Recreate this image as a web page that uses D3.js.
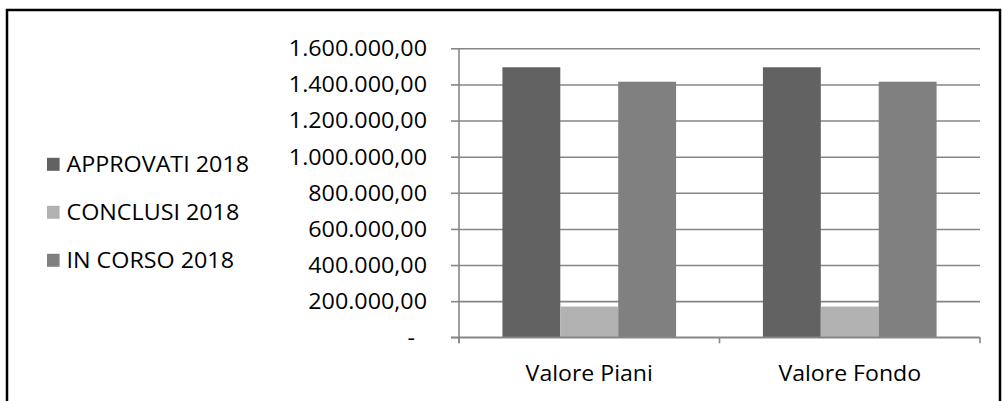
<!DOCTYPE html>
<html><head><meta charset="utf-8">
<script src="https://cdn.jsdelivr.net/npm/d3@7"></script>
<style>
html,body{margin:0;padding:0;background:#fff;}
svg{display:block;}
text{font-family:"Open Sans", Lato, sans-serif;fill:#000;}
</style></head>
<body>
<svg id="c" width="1002" height="401"></svg>
<script>
const categories = ["Valore Piani", "Valore Fondo"];
const seriesNames = ["APPROVATI 2018", "CONCLUSI 2018", "IN CORSO 2018"];
const seriesColors = ["#626262", "#b2b2b2", "#808080"];
const approvati = [1495000, 1495000];
const conclusi = [170000, 170000];
const inCorso = [1415000, 1415000];
const yTicks = [0, 200000, 400000, 600000, 800000, 1000000, 1200000, 1400000, 1600000];

(function () {
const seriesValues = [approvati, conclusi, inCorso];
const svg = d3.select("#c");

function stretch(sel, s) {
  sel.each(function () {
    const t = d3.select(this);
    const x = +t.attr("x") || 0;
    t.attr("x", x / s).attr("transform", `scale(${s},1)`);
  });
}

// frame
svg.append("rect").attr("x", 7).attr("y", 10).attr("width", 993).attr("height", 400)
  .attr("fill", "none").attr("stroke", "#000").attr("stroke-width", 2.5);

const pl = 459, pr = 980, pt = 48.3, pb = 337.3;
const y = d3.scaleLinear().domain([0, 1600000]).range([pb, pt]);
const x0 = d3.scaleBand().domain(categories).range([pl, pr]).paddingInner(0).paddingOuter(0);
const x1 = d3.scaleBand().domain(seriesNames).range([0, x0.bandwidth()]).paddingInner(0).paddingOuter(0.75);

const it = d3.formatLocale({decimal: ",", thousands: ".", grouping: [3], currency: ["", ""]});
const fmt = it.format(",.2f");

// gridlines
const grid = svg.append("g").attr("transform", `translate(${pl},0)`)
  .call(d3.axisLeft(y).tickValues(yTicks).tickSize(-(pr - pl)).tickFormat(""));
grid.selectAll("line").attr("stroke", "#868686").attr("stroke-width", 1.6);
grid.select(".domain").remove();

// bars
const groups = svg.append("g").selectAll("g").data(categories).join("g")
  .attr("transform", d => `translate(${x0(d)},0)`);
groups.selectAll("rect").data((c, ci) => seriesNames.map((s, si) => ({s, si, v: seriesValues[si][ci]})))
  .join("rect")
  .attr("x", d => x1(d.s)).attr("width", x1.bandwidth())
  .attr("y", d => y(d.v)).attr("height", d => y(0) - y(d.v))
  .attr("fill", d => seriesColors[d.si]);

// y axis
const ya = svg.append("g").attr("transform", `translate(${pl},0)`)
  .call(d3.axisLeft(y).tickValues(yTicks).tickSize(8).tickPadding(24)
    .tickFormat(d => d === 0 ? "-" : fmt(d)));
ya.selectAll("line").attr("stroke", "#868686").attr("stroke-width", 1.6);
ya.select(".domain").attr("stroke", "#868686").attr("stroke-width", 1.6).attr("d", `M0,${pt}V${pb + 6}`);
ya.selectAll("text").style("font-size", "21px").attr("dy", "0.35em");
ya.selectAll(".tick text").filter(d => d === 0).attr("x", -44);
stretch(ya.selectAll("text"), 1.11);

// x axis
const xa = svg.append("g").attr("transform", `translate(0,${pb})`);
xa.append("line").attr("x1", pl - 8).attr("x2", pr).attr("stroke", "#868686").attr("stroke-width", 1.6);
const bounds = categories.map(c => x0(c)).concat([x0.range()[1]]);
xa.selectAll("line.t").data(bounds).join("line").attr("class", "t")
  .attr("x1", d => d).attr("x2", d => d).attr("y1", 0).attr("y2", 6)
  .attr("stroke", "#868686").attr("stroke-width", 1.6);
const xl = xa.selectAll("text").data(categories).join("text")
  .attr("x", d => x0(d) + x0.bandwidth() / 2).attr("y", 43.3)
  .attr("text-anchor", "middle").style("font-size", "21px").text(d => d);
stretch(xl, 1.1);

// legend
const lg = svg.append("g").selectAll("g").data(seriesNames).join("g")
  .attr("transform", (d, i) => `translate(47,${164.3 + i * 48})`);
lg.append("rect").attr("x", 0).attr("y", -6.5).attr("width", 12.6).attr("height", 13)
  .attr("fill", (d, i) => seriesColors[i]);
const lt = lg.append("text").attr("x", 19.5).attr("y", 0).attr("dy", "0.35em")
  .style("font-size", "21px").text(d => d);
stretch(lt, 1.11);
})();
</script>
</body></html>
